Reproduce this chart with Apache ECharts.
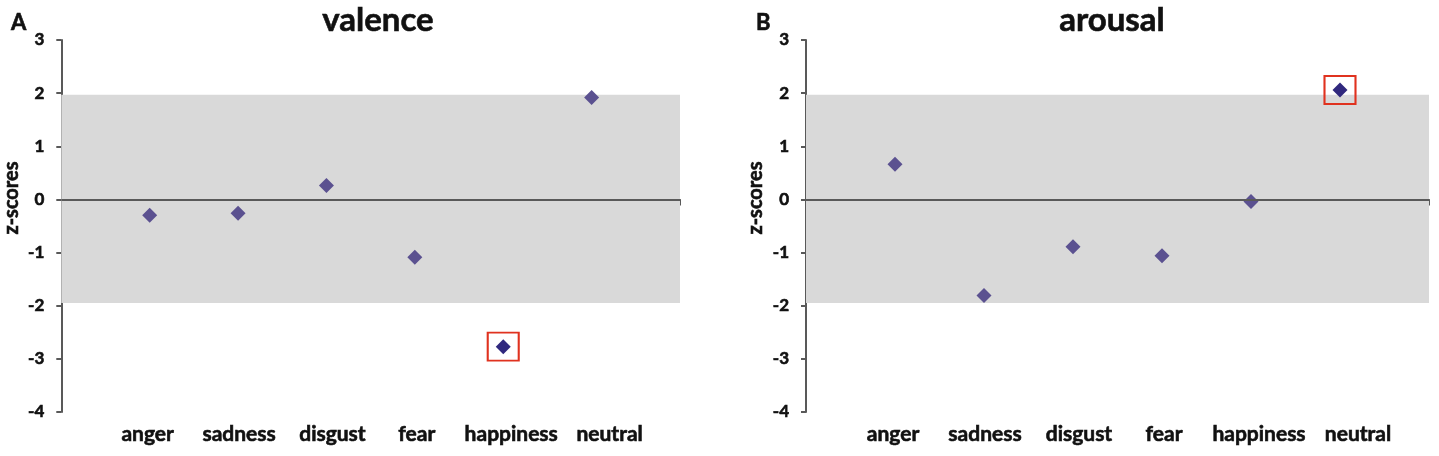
<!DOCTYPE html>
<html>
<head>
<meta charset="utf-8">
<script src="https://cdn.jsdelivr.net/npm/echarts@6/dist/echarts.min.js"></script>
<style>html,body{margin:0;padding:0;background:#fff;}#c{width:1439px;height:456px;}</style>
</head>
<body>
<div id="c"></div>
<script>
var categories = ['anger', 'sadness', 'disgust', 'fear', 'happiness', 'neutral'];
var valence = [-0.30, -0.26, 0.26, -1.09, -2.77, 1.92];
var arousal = [0.66, -1.81, -0.89, -1.06, -0.04, 2.06];
var valenceOutlier = 'happiness';
var arousalOutlier = 'neutral';
var band = [-1.95, 1.97];
var yTicks = [-4, -3, -2, -1, 0, 1, 2, 3];
var panelTitles = ['valence', 'arousal'];
var panelLetters = ['A', 'B'];

var FONT = 'Lato, "Open Sans", sans-serif';
var W = 'bold';
var TB = { textBorderColor: '#111', textBorderWidth: 0.6 };
function ts(o) { return Object.assign({ fontFamily: FONT, fontWeight: W, color: '#111' }, TB, o); }

var labelShift = [-2, 1, 6, 2, 8, 18];
var rich = {};
categories.forEach(function (c, i) {
  var s = labelShift[i];
  rich['c' + i] = ts({
    fontSize: 21,
    padding: s >= 0 ? [0, 0, 0, 2 * s] : [0, -2 * s, 0, 0]
  });
});

function pts(vals, outlier, keepOutlier) {
  var out = [];
  vals.forEach(function (v, i) {
    var isOut = categories[i] === outlier;
    if (isOut === keepOutlier) out.push([i + 1, v]);
  });
  return out;
}

var grids = [
  { left: 59, top: 40, width: 621, height: 372 },
  { left: 806, top: 40, width: 623, height: 372 }
];

var xAxes = [], yAxes = [], series = [];
[valence, arousal].forEach(function (vals, k) {
  var outlier = k === 0 ? valenceOutlier : arousalOutlier;
  xAxes.push({
    gridIndex: k, type: 'value', min: 0, max: categories.length + 1, interval: 1,
    splitLine: { show: false },
    axisLine: { lineStyle: { color: '#595959', width: 2 } },
    axisTick: { show: true, length: 6, inside: false, lineStyle: { color: '#595959', width: 2 } },
    axisLabel: {
      margin: 12,
      formatter: function (v) {
        var i = Math.round(v) - 1;
        if (i < 0 || i >= categories.length) return '';
        return '{c' + i + '|' + categories[i] + '}';
      },
      rich: rich
    }
  });
  yAxes.push({
    gridIndex: k, type: 'value', min: yTicks[0], max: yTicks[yTicks.length - 1], interval: 1,
    name: 'z-scores', nameLocation: 'middle', nameGap: 40,
    nameTextStyle: ts({ fontSize: 20, padding: [0, 0, 0, 56] }),
    splitLine: { show: false },
    axisLine: { show: true, lineStyle: { color: '#595959', width: 2 } },
    axisTick: { show: true, length: 5, lineStyle: { color: '#595959', width: 2 } },
    axisLabel: Object.assign({ margin: 17, fontSize: 17 }, ts({ fontSize: 17 }))
  });
  series.push({
    type: 'scatter', xAxisIndex: k, yAxisIndex: k, z: 3,
    symbol: 'diamond', symbolSize: [15, 15],
    itemStyle: { color: '#5b5190', opacity: 1 },
    data: pts(vals, outlier, false),
    markArea: {
      silent: true,
      itemStyle: { color: '#d9d9d9', opacity: 1 },
      data: [[{ yAxis: band[1], xAxis: 0 }, { yAxis: band[0], xAxis: categories.length + 1 }]]
    },
    markLine: {
      silent: true, symbol: 'none', label: { show: false },
      lineStyle: { color: '#595959', width: 2, type: 'solid', opacity: 1 },
      data: [{ yAxis: 0 }]
    }
  });
  series.push({
    type: 'scatter', xAxisIndex: k, yAxisIndex: k, z: 4,
    symbol: 'diamond', symbolSize: [15, 15],
    itemStyle: { color: '#30287e', opacity: 1 },
    data: pts(vals, outlier, true)
  });
  series.push({
    type: 'scatter', xAxisIndex: k, yAxisIndex: k, z: 5, silent: true,
    symbol: 'rect', symbolSize: [31, 28],
    itemStyle: { color: 'rgba(0,0,0,0)', borderColor: '#e0321f', borderWidth: 2, opacity: 1 },
    data: pts(vals, outlier, true)
  });
});

var chart = echarts.init(document.getElementById('c'), null, { renderer: 'canvas' });
chart.setOption({
  animation: false,
  backgroundColor: '#ffffff',
  title: [
    { text: panelTitles[0], left: 373, top: -1, textAlign: 'center', textStyle: ts({ fontSize: 33 }) },
    { text: panelTitles[1], left: 1107, top: -1, textAlign: 'center', textStyle: ts({ fontSize: 33 }) },
    { text: panelLetters[0], left: 6, top: 7, textStyle: ts({ fontSize: 22 }) },
    { text: panelLetters[1], left: 751, top: 7, textStyle: ts({ fontSize: 22 }) }
  ],
  grid: grids,
  xAxis: xAxes,
  yAxis: yAxes,
  series: series
});
</script>
</body>
</html>
